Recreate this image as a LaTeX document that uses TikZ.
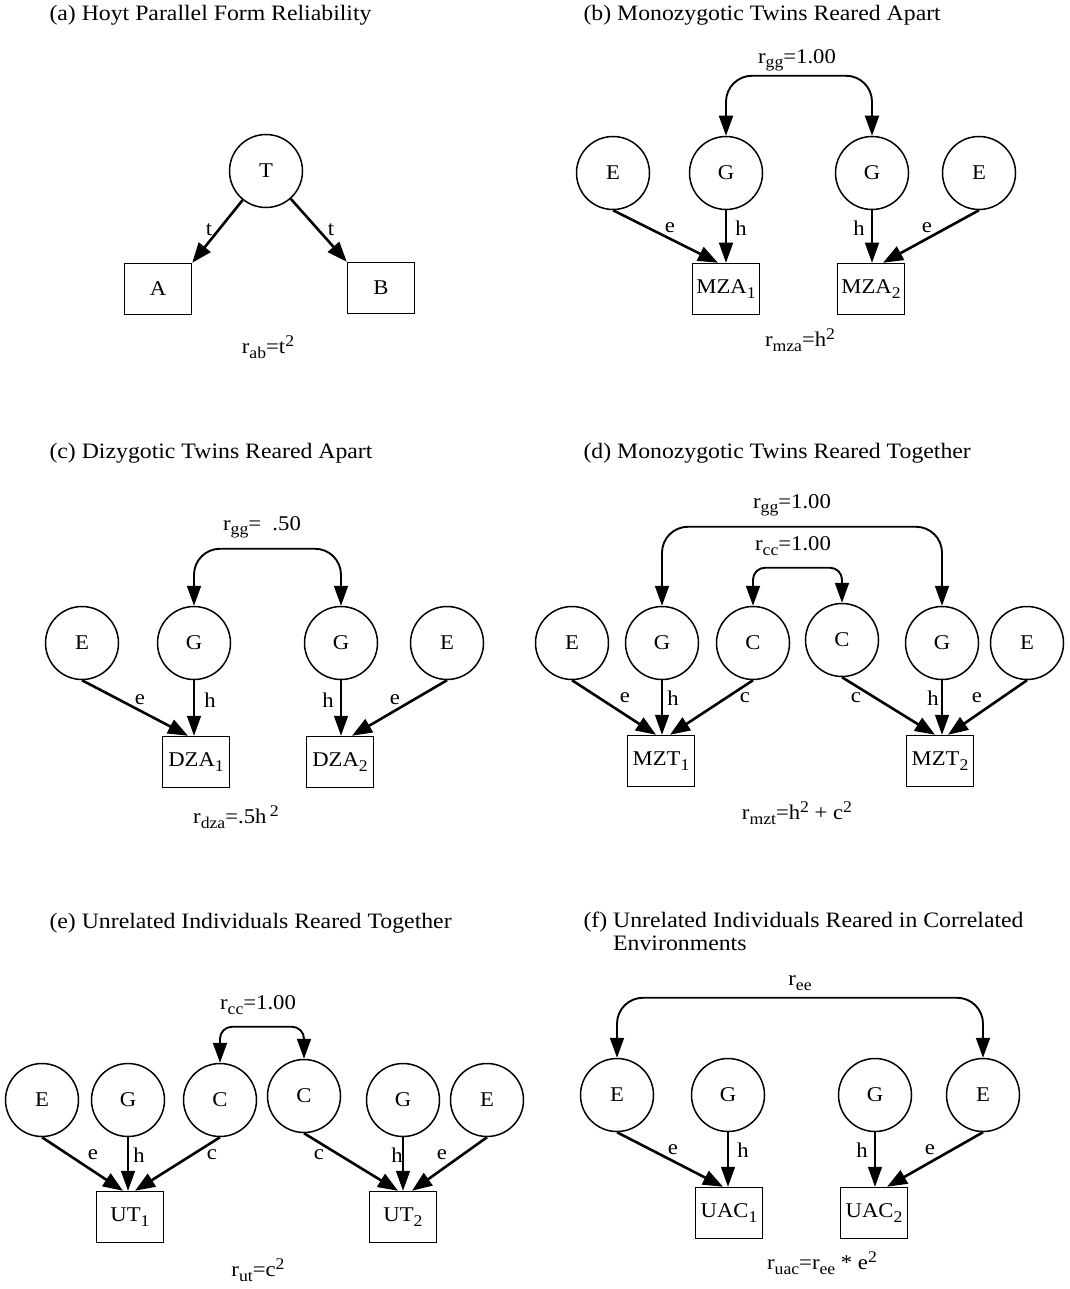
\documentclass[tikz,border=0pt]{standalone}
\usepackage{fontspec}
\setmainfont{Liberation Serif}[FakeStretch=1.08]
\usetikzlibrary{arrows.meta}
\newcommand{\dn}[1]{\raisebox{-.45ex}{\scalebox{.78}{#1}}}
\newcommand{\up}[1]{\raisebox{.75ex}{\scalebox{.78}{#1}}}
\newcommand{\rsub}[2]{r\dn{#1}=#2}

\begin{document}
\begin{tikzpicture}[x=1pt, y=-1pt,
  latent/.style={circle, draw, line width=1.5pt, minimum size=73pt, inner sep=0pt, font=\fontsize{21}{23}\selectfont},
  observed/.style={rectangle, draw, line width=1.5pt, minimum width=67pt, minimum height=51pt, inner sep=1pt, font=\fontsize{21}{23}\selectfont},
  load/.style={-{Triangle[length=20pt,width=15pt]}, line width=2.6pt},
  loadthin/.style={-{Triangle[length=20pt,width=14pt]}, line width=1.5pt},
  twoway/.style={{Triangle[length=20pt,width=14pt]}-{Triangle[length=20pt,width=14pt]}, line width=1.9pt, rounded corners=26pt},
  paneltitle/.style={anchor=west, align=left, font=\fontsize{22}{23}\selectfont},
  coef/.style={font=\fontsize{21}{23}\selectfont, inner sep=1pt}]
  \useasboundingbox (0,0) rectangle (1069,1289);

  % (a) parallel forms
  \node[paneltitle] (a-title) at (46,15) {(a) Hoyt Parallel Form Reliability};
  \node[latent] (a-t) at (266,171) {T};
  \node[observed] (a-a) at (158,289) {A};
  \node[observed] (a-b) at (381,288) {B};
  \draw[load] (a-t) -- (a-a.north east);
  \draw[load] (a-t) -- (a-b.north west);
  \node[coef] (a-l1) at (209,230) {t};
  \node[coef] (a-l2) at (331,230) {t};
  \node[coef] (a-cap) at (268,347) {\rsub{ab}{t\up{2}}};

  % (b) MZA
  \node[paneltitle] (b-title) at (580,15) {(b) Monozygotic Twins Reared Apart};
  \node[latent] (b-e1) at (613,173) {E};
  \node[latent] (b-g1) at (726,173) {G};
  \node[latent] (b-g2) at (872,173) {G};
  \node[latent] (b-e2) at (979,173) {E};
  \node[observed] (b-m1) at (726,289) {MZA\dn{1}};
  \node[observed] (b-m2) at (871,289) {MZA\dn{2}};
  \draw[twoway] (b-g1.north) -- ++(0,-60) -| (b-g2.north);
  \draw[load] (b-e1.south) -- ([xshift=-8pt]b-m1.north);
  \draw[loadthin] (b-g1.south) -- (b-g1.south |- b-m1.north);
  \draw[loadthin] (b-g2.south) -- (b-g2.south |- b-m2.north);
  \draw[load] (b-e2.south) -- ([xshift=12pt]b-m2.north);
  \node[coef] (b-r) at (797,60) {\rsub{gg}{1.00}};
  \node[coef] (b-l1) at (670,228) {e};
  \node[coef] (b-l2) at (741,228) {h};
  \node[coef] (b-l3) at (859,228) {h};
  \node[coef] (b-l4) at (927,228) {e};
  \node[coef] (b-cap) at (800,340) {\rsub{mza}{h\up{2}}};

  % (c) DZA
  \node[paneltitle] (c-title) at (46,453) {(c) Dizygotic Twins Reared Apart};
  \node[latent] (c-e1) at (82,643) {E};
  \node[latent] (c-g1) at (194,643) {G};
  \node[latent] (c-g2) at (341,643) {G};
  \node[latent] (c-e2) at (447,643) {E};
  \node[observed] (c-d1) at (196,762) {DZA\dn{1}};
  \node[observed] (c-d2) at (340,762) {DZA\dn{2}};
  \draw[twoway] (c-g1.north) -- ++(0,-57) -| (c-g2.north);
  \draw[load] (c-e1.south) -- ([xshift=-8pt]c-d1.north);
  \draw[loadthin] (c-g1.south) -- (c-g1.south |- c-d1.north);
  \draw[loadthin] (c-g2.south) -- (c-g2.south |- c-d2.north);
  \draw[load] (c-e2.south) -- ([xshift=12pt]c-d2.north);
  \node[coef] (c-r) at (262,527) {\rsub{gg}{\ \ .50}};
  \node[coef] (c-l1) at (140,700) {e};
  \node[coef] (c-l2) at (210,700) {h};
  \node[coef] (c-l3) at (328,700) {h};
  \node[coef] (c-l4) at (395,700) {e};
  \node[coef] (c-cap) at (236,817) {\rsub{dza}{.5h\,\up{2}}};

  % (d) MZT
  \node[paneltitle] (d-title) at (580,453) {(d) Monozygotic Twins Reared Together};
  \node[latent] (d-e1) at (572,643) {E};
  \node[latent] (d-g1) at (662,643) {G};
  \node[latent] (d-c1) at (753,643) {C};
  \node[latent] (d-c2) at (842,640) {C};
  \node[latent] (d-g2) at (942,643) {G};
  \node[latent] (d-e2) at (1027,643) {E};
  \node[observed] (d-m1) at (661,761) {MZT\dn{1}};
  \node[observed] (d-m2) at (940,761) {MZT\dn{2}};
  \draw[twoway] (d-g1.north) -- ++(0,-79) -| (d-g2.north);
  \draw[twoway, rounded corners=12pt] (d-c1.north) -- ++(0,-38) -| (d-c2.north);
  \draw[load] (d-e1.south) -- ([xshift=-5pt]d-m1.north);
  \draw[loadthin] (d-g1.south) -- (d-g1.south |- d-m1.north);
  \draw[load] (d-c1.south) -- ([xshift=9pt]d-m1.north);
  \draw[load] (d-c2.south) -- ([xshift=-5pt]d-m2.north);
  \draw[loadthin] (d-g2.south) -- (d-g2.south |- d-m2.north);
  \draw[load] (d-e2.south) -- ([xshift=8pt]d-m2.north);
  \node[coef] (d-r1) at (792,505) {\rsub{gg}{1.00}};
  \node[coef] (d-r2) at (793,546) {\rsub{cc}{1.00}};
  \node[coef] (d-l1) at (625,698) {e};
  \node[coef] (d-l2) at (673,698) {h};
  \node[coef] (d-l3) at (745,698) {c};
  \node[coef] (d-l4) at (856,698) {c};
  \node[coef] (d-l5) at (933,698) {h};
  \node[coef] (d-l6) at (977,698) {e};
  \node[coef] (d-cap) at (797,813) {\rsub{mzt}{h\up{2} + c\up{2}}};

  % (e) unrelated, reared together
  \node[paneltitle] (e-title) at (46,923) {(e) Unrelated Individuals Reared Together};
  \node[latent] (e-e1) at (42,1100) {E};
  \node[latent] (e-g1) at (128,1100) {G};
  \node[latent] (e-c1) at (220,1100) {C};
  \node[latent] (e-c2) at (304,1096) {C};
  \node[latent] (e-g2) at (403,1100) {G};
  \node[latent] (e-e2) at (487,1100) {E};
  \node[observed] (e-u1) at (130,1217) {UT\dn{1}};
  \node[observed] (e-u2) at (403,1217) {UT\dn{2}};
  \draw[twoway, rounded corners=12pt] (e-c1.north) -- ++(0,-36) -| (e-c2.north);
  \draw[load] (e-e1.south) -- ([xshift=-7pt]e-u1.north);
  \draw[loadthin] (e-g1.south) -- (e-g1.south |- e-u1.north);
  \draw[load] (e-c1.south) -- ([xshift=5pt]e-u1.north);
  \draw[load] (e-c2.south) -- ([xshift=-5pt]e-u2.north);
  \draw[loadthin] (e-g2.south) -- (e-g2.south |- e-u2.north);
  \draw[load] (e-e2.south) -- ([xshift=9pt]e-u2.north);
  \node[coef] (e-r) at (258,1005) {\rsub{cc}{1.00}};
  \node[coef] (e-l1) at (93,1155) {e};
  \node[coef] (e-l2) at (139,1155) {h};
  \node[coef] (e-l3) at (212,1155) {c};
  \node[coef] (e-l4) at (319,1155) {c};
  \node[coef] (e-l5) at (397,1155) {h};
  \node[coef] (e-l6) at (442,1155) {e};
  \node[coef] (e-cap) at (258,1270) {\rsub{ut}{c\up{2}}};

  % (f) unrelated, correlated environments
  \node[paneltitle, anchor=north west] (f-title) at (580,908) {(f) Unrelated Individuals Reared in Correlated\\\phantom{(f) }Environments};
  \node[latent] (f-e1) at (617,1095) {E};
  \node[latent] (f-g1) at (728,1095) {G};
  \node[latent] (f-g2) at (875,1095) {G};
  \node[latent] (f-e2) at (983,1095) {E};
  \node[observed] (f-u1) at (729,1213) {UAC\dn{1}};
  \node[observed] (f-u2) at (874,1213) {UAC\dn{2}};
  \draw[twoway] (f-e1.north) -- ++(0,-60) -| (f-e2.north);
  \draw[load] (f-e1.south) -- ([xshift=-6pt]f-u1.north);
  \draw[loadthin] (f-g1.south) -- (f-g1.south |- f-u1.north);
  \draw[loadthin] (f-g2.south) -- (f-g2.south |- f-u2.north);
  \draw[load] (f-e2.south) -- ([xshift=13pt]f-u2.north);
  \node[coef] (f-r) at (800,983) {r\dn{ee}};
  \node[coef] (f-l1) at (673,1150) {e};
  \node[coef] (f-l2) at (743,1150) {h};
  \node[coef] (f-l3) at (862,1150) {h};
  \node[coef] (f-l4) at (930,1150) {e};
  \node[coef] (f-cap) at (822,1263) {\rsub{uac}{r\dn{ee} * e\up{2}}};
\end{tikzpicture}
\end{document}
